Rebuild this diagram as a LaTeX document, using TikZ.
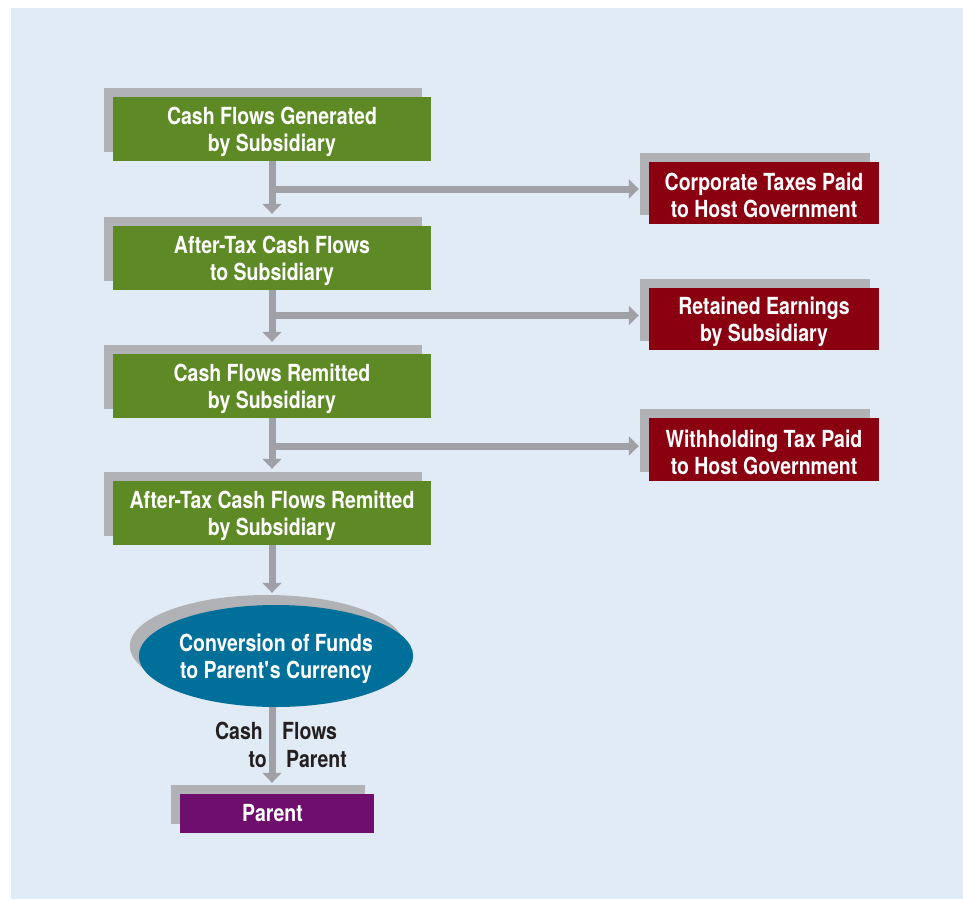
\documentclass[tikz,border=0pt]{standalone}
\usepackage{fontspec}
\setmainfont{TeX Gyre Heros}[FakeStretch=0.83]
\usetikzlibrary{arrows.meta,shapes.geometric,shadows,calc}
\definecolor{bgblue}{HTML}{E1EBF5}
\definecolor{boxgreen}{HTML}{5E8A26}
\definecolor{boxred}{HTML}{8A0010}
\definecolor{boxblue}{HTML}{006F99}
\definecolor{boxpurple}{HTML}{6E0F6E}
\definecolor{shadowgray}{HTML}{B1B2B6}
\definecolor{arrowgray}{HTML}{A0A1A6}
\definecolor{labeldark}{HTML}{231F20}
\newcommand{\topstrut}{\rule{0pt}{24pt}}
\tikzset{
  boxtext/.style={text=white, align=center, font=\bfseries\fontsize{23.5}{27}\selectfont, inner sep=0pt},
  shadowed/.style={copy shadow={shadow xshift=-9pt, shadow yshift=9pt, fill=shadowgray, draw=none}},
  gbox/.style={boxtext, shadowed, rectangle, fill=boxgreen, minimum width=318pt, minimum height=64pt},
  rbox/.style={boxtext, shadowed, rectangle, fill=boxred, minimum width=230pt, minimum height=62pt},
  pbox/.style={boxtext, shadowed, rectangle, fill=boxpurple, minimum width=194pt, minimum height=39pt},
  ebox/.style={boxtext, copy shadow={shadow xshift=-9pt, shadow yshift=10pt, fill=shadowgray, draw=none}, ellipse, fill=boxblue, minimum width=272pt, minimum height=102pt},
  arr/.style={draw=arrowgray, line width=7pt, -{Triangle[width=19pt,length=10pt]}},
  lbl/.style={text=labeldark, font=\bfseries\fontsize{23.5}{27}\selectfont, inner sep=0pt}
}
\begin{document}
\begin{tikzpicture}[x=1pt,y=-1pt]
\useasboundingbox (0,0) rectangle (963,899);
\fill[bgblue] (11,8) rectangle (963,899);

\node[gbox] (b1) at (272,129) {\topstrut Cash Flows Generated\\by Subsidiary};
\node[gbox] (b2) at (272,258) {\topstrut After-Tax Cash Flows\\to Subsidiary};
\node[gbox] (b3) at (272,386) {\topstrut Cash Flows Remitted\\by Subsidiary};
\node[gbox] (b4) at (272,513) {\topstrut After-Tax Cash Flows Remitted\\by Subsidiary};

\node[rbox] (r1) at (764,192.5) {\topstrut Corporate Taxes Paid\\to Host Government};
\node[rbox] (r2) at (764,319) {\topstrut Retained Earnings\\by Subsidiary};
\node[rbox, minimum height=63pt] (r3) at (764,449.5) {\topstrut Withholding Tax Paid\\to Host Government};

\node[ebox] (e) at (276,656) {\topstrut Conversion of Funds\\to Parent\textquotesingle s Currency};
\node[pbox] (p) at (277,813.5) {\hspace*{-9pt}Parent};

% vertical arrows
\draw[arr] (b1.south) -- ($(b2.north)+(0,-12)$);
\draw[arr] (b2.south) -- ($(b3.north)+(0,-12)$);
\draw[arr] (b3.south) -- ($(b4.north)+(0,-12)$);
\draw[arr] (b4.south) -- ($(b4.south |- e.north)+(0,-12)$);
\coordinate (eb) at (e.south -| b4.south);
\draw[arr] (eb) -- ($(p.north -| b4.south)+(0,-11)$);

% horizontal arrows
\draw[arr] ($(b1.south |- r1.west)+(0,-3.5)$) -- ($(r1.west)+(-10,-3.5)$);
\draw[arr] ($(b2.south |- r2.west)+(0,-3.5)$) -- ($(r2.west)+(-10,-3.5)$);
\draw[arr] ($(b3.south |- r3.west)+(0,-3.5)$) -- ($(r3.west)+(-10,-3.5)$);

% labels
\node[lbl, anchor=base east] (l1) at (263,739) {Cash};
\node[lbl, anchor=base west] (l2) at (282,739) {Flows};
\node[lbl, anchor=base east] (l3) at (267,767) {to};
\node[lbl, anchor=base west] (l4) at (286,767) {Parent};
\end{tikzpicture}
\end{document}
